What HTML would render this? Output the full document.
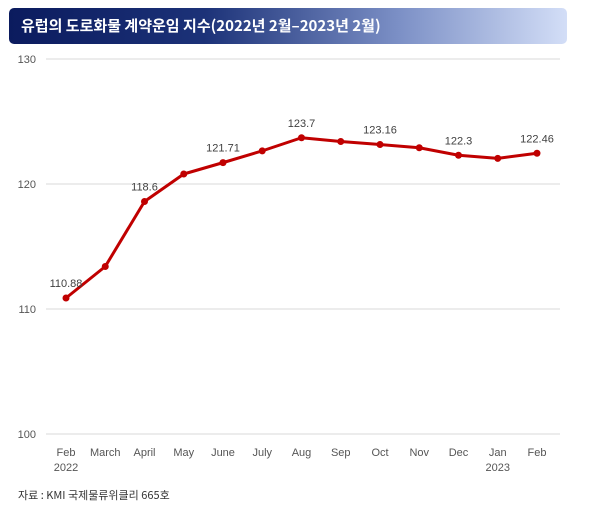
<!DOCTYPE html>
<html><head><meta charset="utf-8"><style>
body{margin:0;background:#fff;width:600px;height:519px;overflow:hidden;font-family:"Liberation Sans","Noto Sans CJK KR",sans-serif}
#title{position:absolute;left:9px;top:8px;width:558px;height:36px;border-radius:5px;background:linear-gradient(90deg,#0b1b5e 0%,#1c3278 35%,#7c90c6 70%,#d3def7 100%);color:#fff;font-size:15px;font-weight:bold;line-height:36px;padding-left:12px;box-sizing:border-box;font-family:"Noto Sans CJK KR",sans-serif}
#src{position:absolute;left:18px;top:487px;font-size:11px;color:#333;font-family:"Noto Sans CJK KR",sans-serif}
</style></head><body>
<div id="title">유럽의 도로화물 계약운임 지수(2022년 2월–2023년 2월)</div>
<svg id="chart" width="600" height="519" style="position:absolute;left:0;top:0"></svg>
<div id="src">자료 : KMI 국제물류위클리 665호</div>
<script>
const categories=["Feb","March","April","May","June","July","Aug","Sep","Oct","Nov","Dec","Jan","Feb"];
const subLabels=["2022","","","","","","","","","","","2023",""];
const values=[110.88,113.4,118.6,120.8,121.71,122.65,123.7,123.4,123.16,122.9,122.3,122.05,122.46];
const shownLabels=["110.88","","118.6","","121.71","","123.7","","123.16","","122.3","","122.46"];
const yTicks=[100,110,120,130];
const NS="http://www.w3.org/2000/svg";
const svg=document.getElementById('chart');
function y(v){return 434-(v-100)*12.5;}
function x(i){return 66+i*39.25;}
function mk(t,a){const e=document.createElementNS(NS,t);for(const k in a)e.setAttribute(k,a[k]);svg.appendChild(e);return e;}
yTicks.forEach(t=>{
 const l=mk('line',{x1:46,x2:560,y1:y(t),y2:y(t),stroke:'#d9d9d9','stroke-width':1});
 
 
 const tx=mk('text',{x:36,y:y(t)+4,'text-anchor':'end','font-size':11,fill:'#555'});
 tx.textContent=t;
 
 
});
categories.forEach((c,i)=>{
 const t=mk('text',{x:x(i),y:456,'text-anchor':'middle','font-size':11,fill:'#555'});
 t.textContent=c;
 
 
 if(subLabels[i]){const s=mk('text',{x:x(i),y:471,'text-anchor':'middle','font-size':11,fill:'#555'});
 s.textContent=subLabels[i];
 
 }
});
const pl=mk('polyline',{points:values.map((v,i)=>x(i)+','+y(v)).join(' '),fill:'none',stroke:'#c00000','stroke-width':3,'stroke-linejoin':'round'});


values.forEach((v,i)=>{
 const c=mk('circle',{cx:x(i),cy:y(v),r:3.5,fill:'#c00000'});
 
 
 if(shownLabels[i]){const t=mk('text',{x:x(i),y:y(v)-11,'text-anchor':'middle','font-size':11,fill:'#404040'});
 t.textContent=shownLabels[i];
 
 }
});
</script>
</body></html>
